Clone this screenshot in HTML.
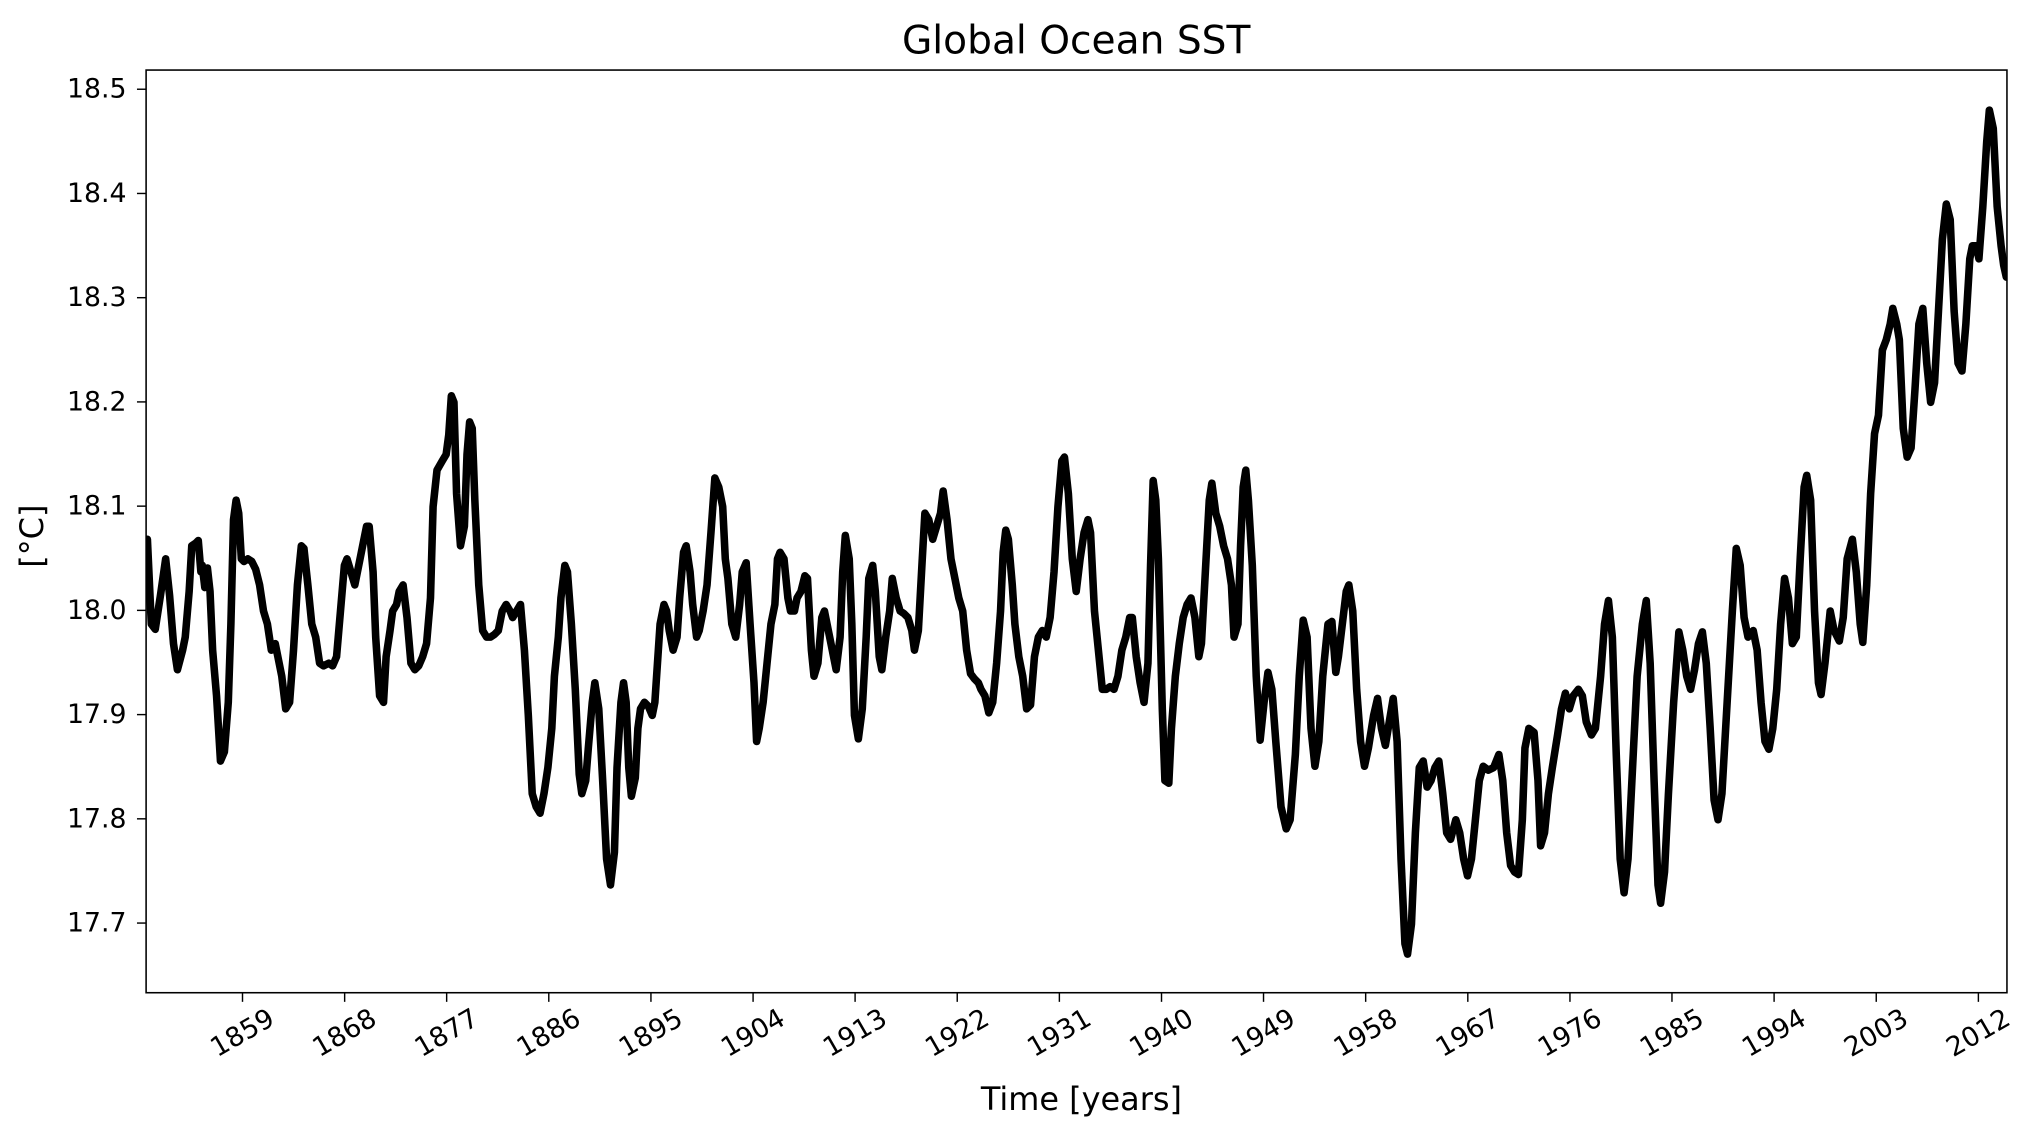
<!DOCTYPE html>
<html><head><meta charset="utf-8"><style>
html,body{margin:0;padding:0;background:#fff;}
svg{display:block;}
text{font-family:"DejaVu Sans","Liberation Sans",sans-serif;fill:#000;}
</style></head><body>
<svg width="2035" height="1137" viewBox="0 0 1560 871.6" xmlns="http://www.w3.org/2000/svg">
<rect x="0" y="0" width="1560" height="871.6" fill="#fff"/>
<text x="825" y="41" font-size="30" text-anchor="middle">Global Ocean SST</text>
<g stroke="#000" stroke-width="1.1">
<line x1="105" y1="68.4" x2="112" y2="68.4"/>
<line x1="105" y1="148.3" x2="112" y2="148.3"/>
<line x1="105" y1="228.2" x2="112" y2="228.2"/>
<line x1="105" y1="308.1" x2="112" y2="308.1"/>
<line x1="105" y1="388" x2="112" y2="388"/>
<line x1="105" y1="467.9" x2="112" y2="467.9"/>
<line x1="105" y1="547.8" x2="112" y2="547.8"/>
<line x1="105" y1="627.7" x2="112" y2="627.7"/>
<line x1="105" y1="707.6" x2="112" y2="707.6"/>
</g>
<g font-size="20.5" text-anchor="end" dominant-baseline="central">
<text x="97" y="68.4">18.5</text>
<text x="97" y="148.3">18.4</text>
<text x="97" y="228.2">18.3</text>
<text x="97" y="308.1">18.2</text>
<text x="97" y="388">18.1</text>
<text x="97" y="467.9">18.0</text>
<text x="97" y="547.8">17.9</text>
<text x="97" y="627.7">17.8</text>
<text x="97" y="707.6">17.7</text>
</g>
<g stroke="#000" stroke-width="1.1">
<line x1="185.9" y1="761" x2="185.9" y2="768"/>
<line x1="264.2" y1="761" x2="264.2" y2="768"/>
<line x1="342.4" y1="761" x2="342.4" y2="768"/>
<line x1="420.7" y1="761" x2="420.7" y2="768"/>
<line x1="499" y1="761" x2="499" y2="768"/>
<line x1="577.3" y1="761" x2="577.3" y2="768"/>
<line x1="655.5" y1="761" x2="655.5" y2="768"/>
<line x1="733.8" y1="761" x2="733.8" y2="768"/>
<line x1="812.1" y1="761" x2="812.1" y2="768"/>
<line x1="890.4" y1="761" x2="890.4" y2="768"/>
<line x1="968.6" y1="761" x2="968.6" y2="768"/>
<line x1="1046.9" y1="761" x2="1046.9" y2="768"/>
<line x1="1125.2" y1="761" x2="1125.2" y2="768"/>
<line x1="1203.5" y1="761" x2="1203.5" y2="768"/>
<line x1="1281.7" y1="761" x2="1281.7" y2="768"/>
<line x1="1360" y1="761" x2="1360" y2="768"/>
<line x1="1438.3" y1="761" x2="1438.3" y2="768"/>
<line x1="1516.6" y1="761" x2="1516.6" y2="768"/>
</g>
<g font-size="20.5" text-anchor="middle" dominant-baseline="central">
<text transform="translate(185.9,792) rotate(-30)">1859</text>
<text transform="translate(264.2,792) rotate(-30)">1868</text>
<text transform="translate(342.4,792) rotate(-30)">1877</text>
<text transform="translate(420.7,792) rotate(-30)">1886</text>
<text transform="translate(499,792) rotate(-30)">1895</text>
<text transform="translate(577.3,792) rotate(-30)">1904</text>
<text transform="translate(655.5,792) rotate(-30)">1913</text>
<text transform="translate(733.8,792) rotate(-30)">1922</text>
<text transform="translate(812.1,792) rotate(-30)">1931</text>
<text transform="translate(890.4,792) rotate(-30)">1940</text>
<text transform="translate(968.6,792) rotate(-30)">1949</text>
<text transform="translate(1046.9,792) rotate(-30)">1958</text>
<text transform="translate(1125.2,792) rotate(-30)">1967</text>
<text transform="translate(1203.5,792) rotate(-30)">1976</text>
<text transform="translate(1281.7,792) rotate(-30)">1985</text>
<text transform="translate(1360,792) rotate(-30)">1994</text>
<text transform="translate(1438.3,792) rotate(-30)">2003</text>
<text transform="translate(1516.6,792) rotate(-30)">2012</text>
</g>
<text x="829" y="851" font-size="24.5" text-anchor="middle">Time [years]</text>
<text transform="translate(33,411) rotate(-90)" font-size="24.5" text-anchor="middle">[°C]</text>
<svg x="112" y="53.7" width="1426.5" height="707.3" viewBox="112 53.7 1426.5 707.3" overflow="hidden">
<g transform="translate(0,-1.6)">
<polyline fill="none" stroke="#000" stroke-width="5.8" stroke-linejoin="round" stroke-linecap="round" points="
113,415 116,480 119,484 123,458 127,430 130,458 133,495 136,515 140,500 142,490 145,455 147,420 150,418 152,416 154,440 155,435 157,452 159,437 161,455 163,500 166,535 169,585 172,578 175,540 177,480 179,400 181,385 183,395 185,430 187,432 190,430 193,432 196,438 199,450 202,470 205,480 208,500 211,495 213,505 216,520 219,545 222,540 225,500 228,450 231,420 233,422 236,450 239,480 242,490 245,510 248,512 252,510 255,512 258,505 261,470 264,435 266,430 269,440 272,450 275,435 278,420 281,405 283,405 286,440 288,490 291,535 294,540 296,505 299,485 301,470 304,465 306,455 309,450 312,475 315,510 318,515 321,512 324,505 327,495 330,460 332,390 335,362 339,355 342,350 344,335 346,305 348,310 350,380 353,420 356,405 358,350 360,325 362,330 364,385 367,450 370,485 373,490 376,490 379,488 382,485 385,470 388,465 391,470 393,475 396,470 399,465 402,500 405,550 408,610 411,620 414,625 417,610 420,590 423,560 425,520 428,490 430,460 433,435 435,440 438,480 441,530 444,595 446,610 449,600 451,575 454,540 456,525 459,545 462,600 465,660 468,680 471,655 473,590 476,540 478,525 480,540 482,590 484,612 487,598 489,560 491,545 494,540 497,543 500,550 502,540 504,510 506,480 509,465 511,470 513,485 516,500 519,490 521,460 524,425 526,420 529,440 531,465 534,490 536,485 539,470 542,450 545,410 548,368 551,375 554,390 556,430 558,445 561,480 564,490 567,465 569,440 572,433 575,480 578,525 580,570 582,560 585,540 588,510 591,480 594,465 596,430 598,425 601,430 604,460 606,470 609,470 611,460 614,455 617,443 619,445 622,500 624,520 627,510 630,475 632,470 635,485 638,500 641,515 644,490 646,440 648,412 651,430 653,480 655,550 658,568 661,545 664,490 666,445 669,435 671,455 674,505 676,515 679,490 682,470 684,445 687,460 690,470 693,472 696,475 699,485 701,500 704,485 707,430 709,395 712,400 715,415 718,405 721,395 723,378 726,400 729,430 732,445 735,460 738,470 741,500 744,518 747,522 750,525 752,530 755,535 758,548 761,540 764,510 767,470 769,425 771,408 773,415 776,450 778,480 781,505 784,520 787,545 790,542 793,505 796,490 799,485 802,490 805,475 808,440 811,390 814,355 816,352 819,380 822,430 825,455 828,430 831,410 834,400 836,410 839,470 842,500 845,530 848,530 851,528 854,530 857,520 860,500 863,490 866,475 868,475 871,505 874,525 877,540 880,510 882,435 884,370 886,385 888,430 891,545 893,600 896,602 898,560 901,520 904,495 907,475 910,465 913,460 916,475 919,505 921,495 924,440 927,385 929,372 932,395 935,405 938,420 941,430 944,450 946,490 949,480 951,420 953,375 955,362 957,385
960,435 963,520 966,569 969,540 972,517 975,530 978,570 982,620 986,637 989,630 993,580 996,520 999,477 1002,490 1005,560 1008,589 1011,570 1014,520 1018,480 1021,478 1024,517 1026,505 1029,480 1032,455 1034,450 1037,470 1040,530 1043,570 1046,589 1049,575 1053,550 1056,537 1059,560 1062,573 1065,555 1068,537 1071,570 1074,660 1077,725 1079,733 1082,710 1085,640 1088,590 1091,585 1094,605 1097,600 1100,590 1103,585 1106,610 1109,640 1112,645 1116,630 1119,640 1122,660 1125,673 1128,660 1131,630 1134,600 1137,589 1141,592 1145,590 1149,580 1152,600 1155,640 1158,665 1161,670 1164,672 1167,630 1169,575 1172,560 1176,563 1179,600 1181,650 1184,640 1187,610 1190,590 1194,565 1197,545 1200,533 1203,545 1206,535 1210,530 1213,535 1216,555 1220,565 1223,560 1227,520 1230,480 1233,462 1236,490 1239,580 1242,660 1245,686 1248,660 1251,600 1255,520 1259,480 1262,462 1265,510 1268,600 1271,680 1273,694 1276,670 1279,610 1283,540 1287,486 1290,500 1293,520 1296,530 1299,515 1302,495 1305,486 1308,510 1311,560 1314,615 1317,630 1320,610 1324,540 1328,470 1331,422 1334,435 1337,475 1340,490 1344,485 1347,500 1350,540 1353,570 1356,576 1359,560 1362,530 1365,480 1368,445 1371,460 1374,495 1377,490 1380,430 1383,375 1385,366 1388,385 1391,470 1394,525 1396,534 1399,510 1403,470 1406,485 1410,493 1413,475 1416,430 1420,415 1423,440 1426,480 1428,494 1431,450 1434,380 1437,334 1440,320 1443,270 1446,262 1449,250 1451,238 1454,250 1456,262 1459,330 1462,352 1465,345 1468,300 1471,250 1474,238 1477,280 1480,310 1483,295 1486,240 1489,185 1492,158 1495,170 1498,240 1501,280 1504,286 1507,250 1510,200 1512,190 1515,190 1517,200 1520,160 1523,110 1525,86 1528,100 1531,160 1534,190 1536,205 1538,214"/>
</g>
</svg>
<rect x="112" y="53.7" width="1426.5" height="707.3" fill="none" stroke="#000" stroke-width="1.2"/>
</svg>
</body></html>
